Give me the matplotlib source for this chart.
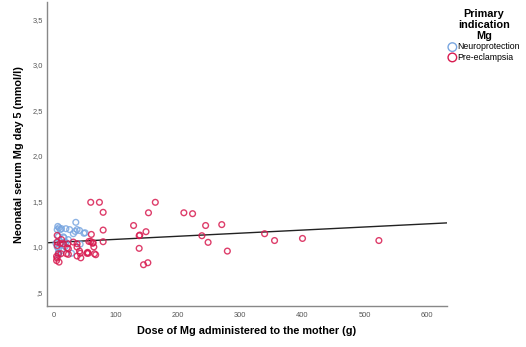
import numpy as np
import matplotlib
matplotlib.use("Agg")
import matplotlib.pyplot as plt

plt.rcParams['font.family'] = ['Liberation Sans', 'DejaVu Sans']

# Neuroprotection group: dose (g), neonatal serum Mg day 5 (mmol/l)
neuro_dose = [35, 6, 8, 5, 10, 12, 19, 25, 34, 41, 31, 50, 7, 16, 23, 19, 42,
              7, 7, 7, 28, 12, 48, 15, 37, 10, 18, 3, 5]
neuro_mg = [1.27, 1.225, 1.21, 1.19, 1.19, 1.20, 1.20, 1.19, 1.17, 1.18, 1.145,
            1.155, 1.115, 1.10, 1.08, 1.05, 1.03, 0.98, 0.94, 0.91, 0.93, 0.96,
            1.15, 1.11, 1.19, 1.03, 1.005, 1.04, 1.0]

# Pre-eclampsia group
pre_dose = [163, 152, 209, 223, 128, 244, 270, 148, 138, 137, 238, 339, 355, 248,
            137, 279, 151, 144, 400, 523, 59, 73, 79, 79, 60, 79, 59, 62, 64, 67,
            5, 10, 12, 15, 5, 4, 4, 7, 11, 23, 23, 31, 37, 41, 43, 53, 55, 63,
            5, 5, 8, 21, 20, 37, 56, 65, 42, 54, 37, 22]
pre_mg = [1.49, 1.375, 1.375, 1.365, 1.235, 1.235, 1.245, 1.167, 1.13, 1.123,
          1.123, 1.145, 1.07, 1.05, 0.984, 0.954, 0.826, 0.804, 1.093, 1.07,
          1.49, 1.49, 1.38, 1.185, 1.137, 1.057, 1.06, 1.04, 1.0, 0.914,
          1.053, 1.04, 1.08, 1.035, 1.016, 0.896, 0.85, 0.925, 0.925, 0.98,
          0.918, 1.053, 0.998, 0.954, 0.88, 0.93, 0.93, 1.046,
          1.126, 0.877, 0.833, 0.99, 0.925, 1.035, 1.06, 0.925, 0.93, 0.94,
          0.90, 1.035]

x_ticks = [0, 100, 200, 300, 400, 500, 600]
y_ticks = [0.5, 1.0, 1.5, 2.0, 2.5, 3.0, 3.5]
y_tick_labels = [',5', '1,0', '1,5', '2,0', '2,5', '3,0', '3,5']

blue = '#79a6e0'
red = '#d81b50'

fig = plt.figure(figsize=(5.26, 3.47), dpi=100)
ax = fig.add_axes([0.089, 0.118, 0.760, 0.876])

ax.scatter(neuro_dose, neuro_mg, s=17, facecolors='none', edgecolors=blue,
           linewidths=1.0, alpha=0.85, label='Neuroprotection', zorder=3)
ax.scatter(pre_dose, pre_mg, s=17, facecolors='none', edgecolors=red,
           linewidths=1.0, alpha=0.85, label='Pre-eclampsia', zorder=3)

# Linear fit over all observations
all_x = np.array(neuro_dose + pre_dose, dtype=float)
all_y = np.array(neuro_mg + pre_mg, dtype=float)
slope, intercept = np.polyfit(all_x, all_y, 1)
xlim = (-11.7, 632)
xs = np.array(xlim)
ax.plot(xs, intercept + slope * xs, color='#222222', lw=1.0, zorder=2)

ax.set_xlim(*xlim)
ax.set_ylim(0.35, 3.69)
ax.set_xticks(x_ticks)
ax.set_xticklabels([str(v) for v in x_ticks])
ax.set_yticks(y_ticks)
ax.set_yticklabels(y_tick_labels)
ax.tick_params(length=0, labelsize=5.4, colors='#555555')
ax.tick_params(axis='x', pad=4)
ax.tick_params(axis='y', pad=2.7)

for side in ('top', 'right'):
    ax.spines[side].set_visible(False)
for side in ('left', 'bottom'):
    ax.spines[side].set_color('#888888')
    ax.spines[side].set_linewidth(1.0)

ax.set_xlabel('Dose of Mg administered to the mother (g)', fontsize=7.8,
              fontweight='bold', labelpad=5)
ax.set_ylabel('Neonatal serum Mg day 5 (mmol/l)', fontsize=7.8,
              fontweight='bold', labelpad=6)

leg = fig.legend(loc='upper left', bbox_to_anchor=(0.845, 0.985),
                 title='Primary\nindication\nMg', frameon=False, fontsize=6.3,
                 handletextpad=0.1, borderaxespad=0, handlelength=1.0,
                 labelspacing=0.15, markerscale=1.5)
leg.get_title().set_fontweight('bold')
leg.get_title().set_fontsize(7.8)
leg.get_title().set_multialignment('center')
leg.get_title().set_linespacing(1.15)
for h in leg.legend_handles:
    h.set_alpha(1)

fig.savefig('out.png', dpi=100)
